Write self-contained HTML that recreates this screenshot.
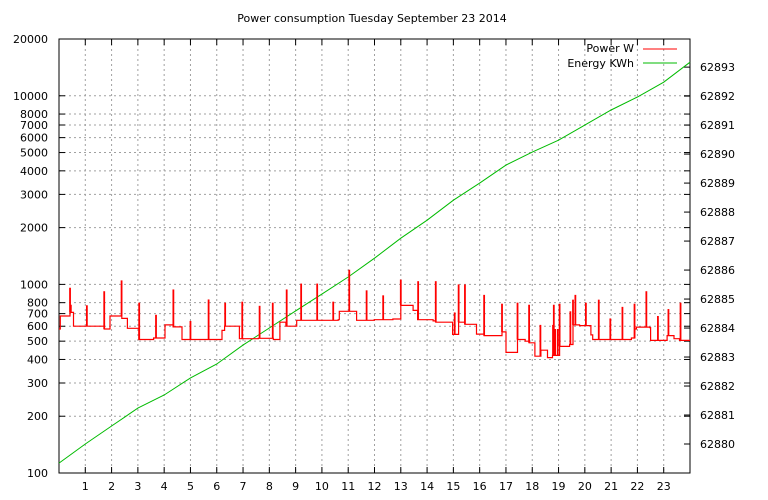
<!DOCTYPE html>
<html><head><meta charset="utf-8"><style>
body{margin:0;background:#fff}
svg{display:block;font-family:"DejaVu Sans","Liberation Sans",sans-serif;font-size:11px}
</style></head><body>
<svg id="chart" width="768" height="500" xmlns="http://www.w3.org/2000/svg">
<text x="372" y="22" text-anchor="middle">Power consumption Tuesday September 23 2014</text>
<g id="grid"></g>
<g id="axes"></g>
<g id="series"></g>
<g>
<text x="634" y="52" text-anchor="end">Power W</text>
<line x1="643" y1="49" x2="677" y2="49" stroke="#f00" stroke-width="1"/>
<text x="634" y="67" text-anchor="end">Energy KWh</text>
<line x1="643" y1="63" x2="677" y2="63" stroke="#0b0" stroke-width="1"/>
</g>
</svg>
<script>
const hourTicks=[1,2,3,4,5,6,7,8,9,10,11,12,13,14,15,16,17,18,19,20,21,22,23];
const leftTicks=[100,200,300,400,500,600,700,800,1000,2000,3000,4000,5000,6000,7000,8000,10000,20000];
const rightTicks=[62880,62881,62882,62883,62884,62885,62886,62887,62888,62889,62890,62891,62892,62893];
const energyHours=[0,1,2,3,4,5,6,7,8,9,10,11,12,13,14,15,16,17,18,19,20,21,22,23,24];
const energyValues=[62879.34,62880.0,62880.62,62881.24,62881.69,62882.28,62882.76,62883.41,62884.0,62884.59,62885.17,62885.76,62886.41,62887.1,62887.72,62888.41,62889.0,62889.62,62890.07,62890.48,62891.0,62891.52,62891.97,62892.48,62893.17];
const stepStarts=[0,0.05,0.42,0.55,1.72,1.94,2.39,2.6,3.04,3.6,4.03,4.34,4.68,6.2,6.3,6.86,7.58,8.15,8.4,8.63,9.04,10.62,10.66,11.32,11.99,12.7,13.0,13.47,13.64,14.23,14.33,14.97,15.2,15.44,15.88,16.17,16.85,17.0,17.44,17.73,17.88,18.1,18.33,18.58,18.77,19.04,19.42,19.55,19.8,20.23,20.3,21.77,21.9,21.96,22.47,22.5,23.13,23.39,23.6];
const stepValues=[580,680,710,600,580,680,660,585,510,520,610,595,510,570,600,515,518,510,630,600,645,650,720,645,650,655,774,728,650,640,630,543,630,614,545,535,560,436,510,500,490,416,448,409,420,469,480,610,605,540,510,520,580,594,590,505,535,515,505];
const spikeHours=[0.42,0.45,1.06,1.72,2.38,3.05,3.69,4.35,5.0,5.69,6.32,6.97,7.63,8.13,8.66,9.21,9.82,10.43,11.04,11.7,12.33,13.0,13.66,14.33,15.05,15.2,15.44,16.17,16.85,17.44,17.88,18.31,18.79,18.82,18.87,18.97,19.04,19.45,19.55,19.64,20.04,20.53,20.97,21.43,21.89,22.34,22.78,23.18,23.64];
const spikeValues=[960,780,775,920,1050,800,690,940,640,832,800,810,770,800,940,1010,1010,810,1196,930,875,1060,1040,1040,710,1000,1000,880,790,800,780,610,610,780,580,580,790,720,830,880,800,830,660,760,790,920,680,740,800];

const L=59,R=690,T=39,B=473,NS='http://www.w3.org/2000/svg';
const xS=h=>L+(R-L)*h/24;
const yL=v=>B-(B-T)*(Math.log10(v)-2)/(Math.log10(20000)-2);
const yR=v=>B-(B-T)*(v-62879)/(62893.97-62879);
function mk(p,tag,at){const e=document.createElementNS(NS,tag);for(const k in at)e.setAttribute(k,at[k]);p.appendChild(e);return e;}
const grid=document.getElementById('grid'),axes=document.getElementById('axes'),ser=document.getElementById('series');
hourTicks.forEach(h=>{
 const x=xS(h);
 const g=mk(grid,'line',{x1:x,y1:T,x2:x,y2:B,stroke:'#a0a0a0','stroke-dasharray':'2,3'});
 
 mk(axes,'line',{x1:x,y1:B,x2:x,y2:B-6,stroke:'#000'});
 mk(axes,'line',{x1:x,y1:T,x2:x,y2:T+6,stroke:'#000'});
 const t=mk(axes,'text',{x:x,y:B+17,'text-anchor':'middle'});t.textContent=h;
 
});
leftTicks.forEach(v=>{
 const y=yL(v);
 if(v>100&&v<20000){const g=mk(grid,'line',{x1:L,y1:y,x2:R,y2:y,stroke:'#a0a0a0','stroke-dasharray':'2,3'});
 }
 mk(axes,'line',{x1:L,y1:y,x2:L+6,y2:y,stroke:'#000'});
 mk(axes,'line',{x1:R,y1:y,x2:R-6,y2:y,stroke:'#000'});
 const t=mk(axes,'text',{x:L-11,y:y+4,'text-anchor':'end'});t.textContent=v;
 
});
rightTicks.forEach(v=>{
 const y=yR(v);
 mk(axes,'line',{x1:R,y1:y,x2:R-6,y2:y,stroke:'#000'});
 const t=mk(axes,'text',{x:R+10,y:y+4,'text-anchor':'start'});t.textContent=v;
 
});
const fr=mk(axes,'rect',{x:L,y:T,width:R-L,height:B-T,fill:'none',stroke:'#000'});

// energy
let d='';energyHours.forEach((h,i)=>{d+=(i?'L':'M')+xS(h).toFixed(1)+','+yR(energyValues[i]).toFixed(1);});
const en=mk(ser,'path',{d:d,fill:'none',stroke:'#0b0','stroke-width':1});

// power steps
let p='';
stepStarts.forEach((h,i)=>{const x1=xS(h),x2=xS(i+1<stepStarts.length?stepStarts[i+1]:24),y=yL(stepValues[i]);
 p+=(i?'L':'M')+x1.toFixed(1)+','+y.toFixed(1)+'L'+x2.toFixed(1)+','+y.toFixed(1);});
const pw=mk(ser,'path',{d:p,fill:'none',stroke:'#f00','stroke-width':1.2});

function baseAt(h){let v=stepValues[0];stepStarts.forEach((s,i)=>{if(s<=h)v=stepValues[i];});return v;}
spikeHours.forEach((h,i)=>{
 const x=xS(h);
 const s=mk(ser,'line',{x1:x,y1:yL(baseAt(h)),x2:x,y2:yL(spikeValues[i]),stroke:'#f00','stroke-width':1.8});
 
});
</script>
</body></html>
